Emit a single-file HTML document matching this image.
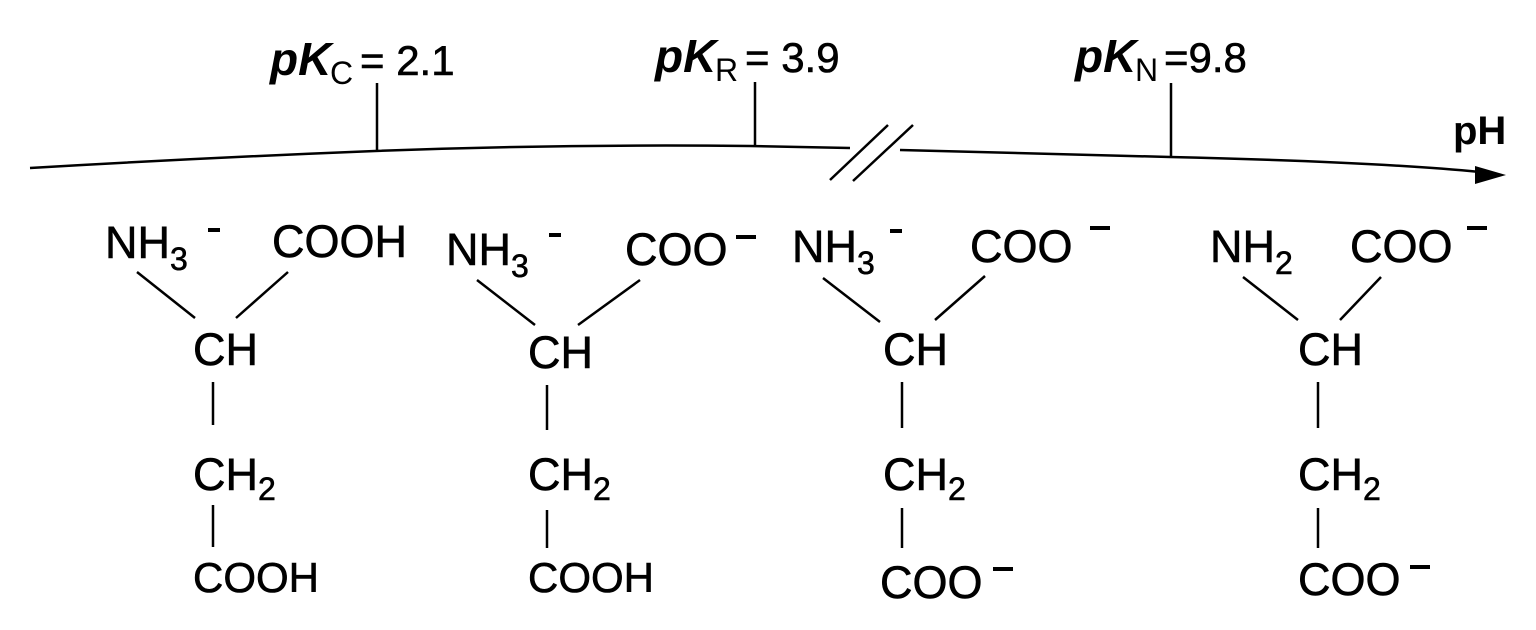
<!DOCTYPE html>
<html><head><meta charset="utf-8"><style>
html,body{margin:0;padding:0;background:#fff;width:1536px;height:630px;overflow:hidden}
svg text{font-family:"Liberation Sans",sans-serif;fill:#000}
.m{font-size:45px;stroke:#000;stroke-width:0.6}
.s{font-size:32px}
.k{font-size:46px;font-weight:bold;font-style:italic}
.e{font-size:42px;stroke:#000;stroke-width:0.6}
.l{font-size:42px}
</style></head><body>
<svg width="1536" height="630" viewBox="0 0 1536 630" xmlns="http://www.w3.org/2000/svg">
<g stroke="#000" stroke-width="2.5" fill="none">
<path d="M30 168 Q200 158 375 151 Q560 144 750 146 L850 148"/>
<path d="M900 150 L1170 157 Q1380 162 1480 172"/>
<line x1="830" y1="180" x2="888" y2="125"/>
<line x1="853" y1="181" x2="913" y2="125"/>
<line x1="377" y1="83" x2="377" y2="151"/>
<line x1="755" y1="82" x2="755" y2="147"/>
<line x1="1171" y1="83" x2="1171" y2="157"/>
<line x1="137" y1="272" x2="195" y2="318"/><line x1="288" y1="272" x2="236" y2="318"/>
<line x1="213" y1="382" x2="213" y2="425"/><line x1="213" y1="505" x2="213" y2="547"/>
<line x1="477" y1="280" x2="535" y2="325"/><line x1="640" y1="280" x2="578" y2="325"/>
<line x1="547" y1="385" x2="547" y2="430"/><line x1="547" y1="510" x2="547" y2="548"/>
<line x1="823" y1="278" x2="880" y2="322"/><line x1="985" y1="276" x2="935" y2="320"/>
<line x1="902" y1="382" x2="902" y2="428"/><line x1="902" y1="508" x2="902" y2="548"/>
<line x1="1243" y1="277" x2="1298" y2="320"/><line x1="1381" y1="277" x2="1340" y2="320"/>
<line x1="1318" y1="382" x2="1318" y2="428"/><line x1="1318" y1="508" x2="1318" y2="548"/>
</g>
<polygon points="1475,166 1506,175 1475,184" fill="#000"/>
<text class="k" x="270" y="75">pK</text><text class="s" x="330" y="84">C</text><text class="e" x="360" y="75">= 2.1</text>
<text class="k" x="655" y="72">pK</text><text class="s" x="715" y="81">R</text><text class="e" x="745" y="72">= 3.9</text>
<text class="k" x="1075" y="72">pK</text><text class="s" x="1135" y="81">N</text><text class="e" x="1164" y="72">=9.8</text>
<text x="1453" y="144" style="font-size:40px;font-weight:bold">pH</text>

<g class="m">
<text x="105" y="258">NH<tspan class="s" dy="12">3</tspan></text>
<text x="272" y="257">COOH</text>
<text x="193" y="365">CH</text>
<text x="193" y="490">CH<tspan class="s" dy="10">2</tspan></text>
<text class="l" x="193" y="592">COOH</text>

<text x="446" y="265">NH<tspan class="s" dy="12">3</tspan></text>
<text x="625" y="265">COO</text>
<text x="528" y="368">CH</text>
<text x="528" y="490">CH<tspan class="s" dy="10">2</tspan></text>
<text class="l" x="528" y="592">COOH</text>

<text x="792" y="262">NH<tspan class="s" dy="12">3</tspan></text>
<text x="970" y="262">COO</text>
<text x="883" y="365">CH</text>
<text x="883" y="490">CH<tspan class="s" dy="10">2</tspan></text>
<text x="880" y="598">COO</text>

<text x="1210" y="262">NH<tspan class="s" dy="12">2</tspan></text>
<text x="1350" y="262">COO</text>
<text x="1298" y="365">CH</text>
<text x="1298" y="490">CH<tspan class="s" dy="10">2</tspan></text>
<text x="1298" y="595">COO</text>
</g>
<g fill="#000">
<rect x="208" y="228" width="12" height="4"/>
<rect x="549" y="233" width="12" height="4"/>
<rect x="736" y="235" width="20" height="4"/>
<rect x="890" y="229" width="12" height="4"/>
<rect x="1090" y="226" width="20" height="4"/>
<rect x="1467" y="226" width="20" height="4"/>
<rect x="993" y="567" width="20" height="4"/>
<rect x="1410" y="565" width="20" height="4"/>
</g>
</svg>
</body></html>
